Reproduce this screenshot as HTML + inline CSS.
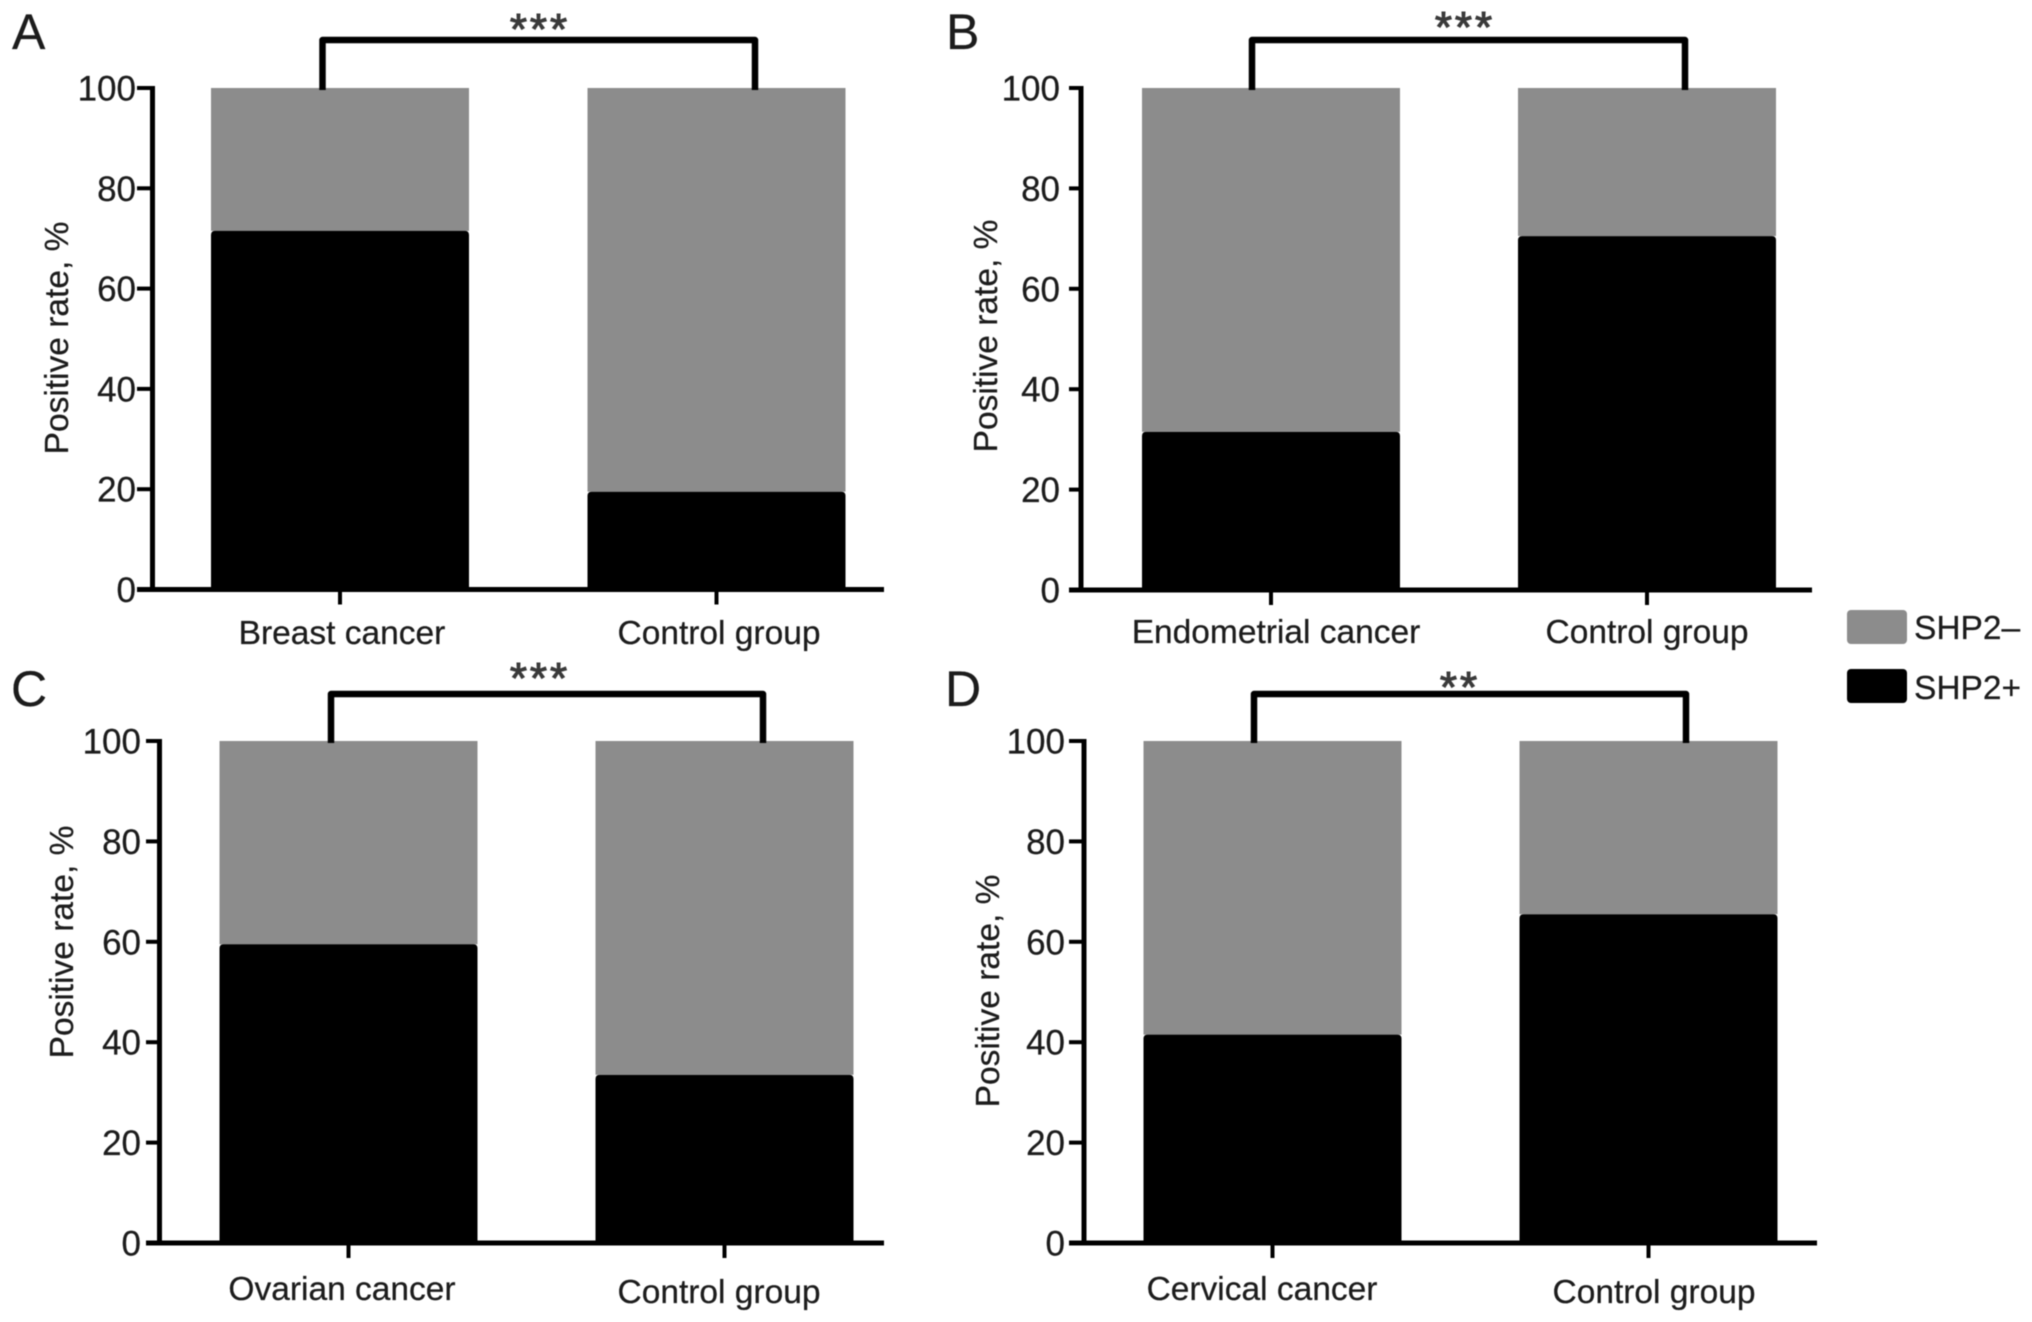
<!DOCTYPE html>
<html lang="en">
<head>
<meta charset="utf-8">
<title>SHP2 positive rate by cancer type</title>
<style>
  html, body { margin: 0; padding: 0; background: #fff; }
  body { width: 2032px; height: 1322px; overflow: hidden; }
  svg { display: block; filter: blur(0.6px); }
  text { font-family: "Liberation Sans", Arial, sans-serif; fill: #1c1c1c; stroke: #1c1c1c; stroke-width: 0.25px; }
</style>
</head>
<body>
<svg id="figure" xmlns="http://www.w3.org/2000/svg" width="2032" height="1322" viewBox="0 0 2032 1322">
  <rect x="0" y="0" width="2032" height="1322" fill="#ffffff"></rect>
</svg>
<script>
// ---- chart data ----
const tickValues = [0, 20, 40, 60, 80, 100];
const tickLabels = ["0", "20", "40", "60", "80", "100"];
const panelNames = ["A", "B", "C", "D"];
const categoriesA = ["Breast cancer", "Control group"];
const categoriesB = ["Endometrial cancer", "Control group"];
const categoriesC = ["Ovarian cancer", "Control group"];
const categoriesD = ["Cervical cancer", "Control group"];
const shp2PositiveA = [71.5, 19.5];
const shp2PositiveB = [31.5, 70.5];
const shp2PositiveC = [59.5, 33.5];
const shp2PositiveD = [41.5, 65.5];
const shp2NegativeA = [28.5, 80.5];
const shp2NegativeB = [68.5, 29.5];
const shp2NegativeC = [40.5, 66.5];
const shp2NegativeD = [58.5, 34.5];
const significance = ["***", "***", "***", "**"];
const legendLabels = ["SHP2\u2013", "SHP2+"];

// ---- layout (geometry only) ----
const layouts = {
  A: { axisX: 152.5, top: 88, bottom: 589.5, xStart: 137, xEnd: 884, barLeft: 211, barWidth: 258, barStep: 376.5,
       brL: 322.5, brR: 755, brTop: 40, starX: 540, starY: 44, titleX: 56, titleY: 338, labelRight: 136,
       letterX: 12, letterY: 49, catX: [342, 719], catY: [644, 644] },
  B: { axisX: 1081, top: 88, bottom: 590, xStart: 1069, xEnd: 1812, barLeft: 1142, barWidth: 258, barStep: 376,
       brL: 1252, brR: 1685, brTop: 40, starX: 1465, starY: 42, titleX: 985, titleY: 336, labelRight: 1060,
       letterX: 946, letterY: 49, catX: [1276, 1647], catY: [643, 643] },
  C: { axisX: 159.5, top: 741, bottom: 1243, xStart: 146, xEnd: 884, barLeft: 219.5, barWidth: 258, barStep: 376,
       brL: 331, brR: 763, brTop: 694, starX: 540, starY: 693, titleX: 61, titleY: 942, labelRight: 141,
       letterX: 11, letterY: 706, catX: [342, 719], catY: [1300, 1303] },
  D: { axisX: 1084, top: 741, bottom: 1243, xStart: 1069, xEnd: 1817, barLeft: 1143.5, barWidth: 258, barStep: 376,
       brL: 1254, brR: 1686, brTop: 694, starX: 1460, starY: 702, titleX: 987, titleY: 991, labelRight: 1065,
       letterX: 945, letterY: 706, catX: [1262, 1654], catY: [1300, 1303] }
};
const panelData = {
  A: { categories: categoriesA, positive: shp2PositiveA, negative: shp2NegativeA },
  B: { categories: categoriesB, positive: shp2PositiveB, negative: shp2NegativeB },
  C: { categories: categoriesC, positive: shp2PositiveC, negative: shp2NegativeC },
  D: { categories: categoriesD, positive: shp2PositiveD, negative: shp2NegativeD }
};
const GREY = "#8c8c8c", BLACK = "#000000", FONT_SIZE = 33.5, TICK_FONT_SIZE = 35;
const svg = document.getElementById("figure");

function make(tag, attrs, parent, content) {
  const el = document.createElementNS("http://www.w3.org/2000/svg", tag);
  for (const k in attrs) el.setAttribute(k, attrs[k]);
  if (content !== undefined) el.textContent = content;
  parent.appendChild(el);
  return el;
}
function yScale(L, v) { return L.bottom - (v / 100) * (L.bottom - L.top); }
function xBandLeft(L, i) { return L.barLeft + i * L.barStep; }
function xBandCenter(L, i) { return xBandLeft(L, i) + L.barWidth / 2; }
function topRoundedBar(x, yTop, w, yBottom, r) {
  const rr = Math.min(r, Math.max(0, (yBottom - yTop) / 2));
  return "M" + x + " " + yBottom + "V" + (yTop + rr) + "Q" + x + " " + yTop + " " + (x + rr) + " " + yTop +
         "H" + (x + w - rr) + "Q" + (x + w) + " " + yTop + " " + (x + w) + " " + (yTop + rr) + "V" + yBottom + "Z";
}

panelNames.forEach(function (name, p) {
  const L = layouts[name];
  const D = panelData[name];
  const key = name.toLowerCase();

  const g = make("g", {}, svg);
  
  

  const letter = make("text", { x: L.letterX, y: L.letterY, "font-size": 50 }, g, name);
  
  

  // bars
  D.categories.forEach(function (cat, i) {
    const x = xBandLeft(L, i);
    const pos = D.positive[i];
    const neg = D.negative[i];
    const greyBar = make("rect", { x: x, y: yScale(L, pos + neg), width: L.barWidth,
      height: yScale(L, pos) - yScale(L, pos + neg), fill: GREY }, g);
    
    
    const blackBar = make("path", { d: topRoundedBar(x, yScale(L, pos), L.barWidth, yScale(L, 0), 4), fill: BLACK }, g);
    
    
  });

  // y axis
  const yAxis = make("line", { x1: L.axisX, x2: L.axisX, y1: L.top - 2, y2: L.bottom + 2, stroke: "#000", "stroke-width": 5 }, g);
  
  
  tickValues.forEach(function (v, t) {
    const tick = make("line", { x1: L.xStart, x2: L.axisX, y1: yScale(L, v), y2: yScale(L, v), stroke: "#000", "stroke-width": 4 }, g);
    
    
    const label = make("text", { x: L.labelRight, y: yScale(L, v) + 12.5, "font-size": TICK_FONT_SIZE, "text-anchor": "end" }, g, tickLabels[t]);
    
    
  });
  const yTitle = make("text", { x: 0, y: 0, "font-size": FONT_SIZE, "text-anchor": "middle",
    transform: "translate(" + (L.titleX + 12) + " " + L.titleY + ") rotate(-90)" }, g, "Positive rate, %");
  
  

  // x axis
  const xAxis = make("line", { x1: L.xStart, x2: L.xEnd, y1: L.bottom, y2: L.bottom, stroke: "#000", "stroke-width": 5 }, g);
  
  
  D.categories.forEach(function (cat, i) {
    const cx = xBandCenter(L, i);
    const tick = make("line", { x1: cx, x2: cx, y1: L.bottom, y2: L.bottom + 15, stroke: "#000", "stroke-width": 4 }, g);
    
    
    const label = make("text", { x: L.catX[i], y: L.catY[i], "font-size": FONT_SIZE, "text-anchor": "middle" }, g, cat);
    
    
  });

  // significance bracket
  const bracket = make("path", { d: "M" + L.brL + " " + (L.top + 2) + "V" + L.brTop + "H" + L.brR + "V" + (L.top + 2),
    fill: "none", stroke: "#000", "stroke-width": 6.5, "stroke-linejoin": "round" }, g);
  
  
  const stars = make("text", { x: L.starX, y: L.starY, "font-size": 44, "text-anchor": "middle", "letter-spacing": 3, style: "fill:#3a3a3a;stroke:#3a3a3a;stroke-width:1.1px" }, g, significance[p]);
  
  
});

// legend
const legendColors = [GREY, BLACK];
const legendTops = [610, 669];
const legendTextOffsets = [29, 30];
const legend = make("g", {}, svg);


legendLabels.forEach(function (text, i) {
  const swatch = make("rect", { x: 1847, y: legendTops[i], width: 60, height: 34, rx: 4, ry: 4, fill: legendColors[i] }, legend);
  
  
  const label = make("text", { x: 1914, y: legendTops[i] + legendTextOffsets[i], "font-size": FONT_SIZE }, legend, text);
  
  
});
</script>
</body>
</html>
